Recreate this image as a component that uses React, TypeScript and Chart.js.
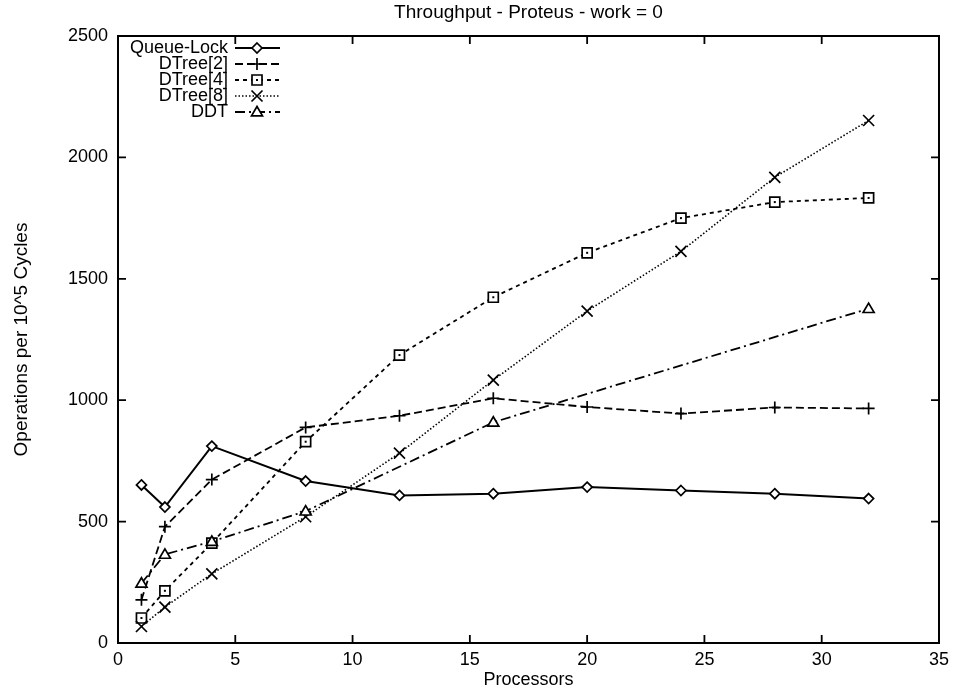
import React, { useEffect, useRef } from "react";
import { Chart, registerables } from "chart.js";

Chart.register(...registerables);

const processors = [1, 2, 4, 8, 12, 16, 20, 24, 28, 32];
const queueLock = [651, 560, 811, 667, 608, 615, 642, 628, 615, 595];
const dtree2 = [178, 479, 673, 888, 936, 1008, 972, 945, 970, 966];
const dtree4 = [103, 215, 411, 829, 1186, 1424, 1607, 1750, 1816, 1833];
const dtree8 = [68, 148, 285, 520, 782, 1083, 1367, 1613, 1918, 2152];
const ddtProcessors = [1, 2, 4, 8, 16, 32];
const ddt = [246, 365, 418, 543, 909, 1377];

const seriesNames = ["Queue-Lock", "DTree[2]", "DTree[4]", "DTree[8]", "DDT"];
const xTicks = [0, 5, 10, 15, 20, 25, 30, 35];
const yTicks = [0, 500, 1000, 1500, 2000, 2500];

const titleText = "Throughput - Proteus - work = 0";
const xTitle = "Processors";
const yTitle = "Operations per 10^5 Cycles";

const FONT = "'Liberation Sans', Arial, Helvetica, sans-serif";

const styles = [
  { dash: [], width: 2, marker: "diamond" },
  { dash: [8, 4], width: 1.8, marker: "plus" },
  { dash: [4, 4], width: 1.8, marker: "square" },
  { dash: [1.5, 2], width: 1.6, marker: "x" },
  { dash: [10, 4, 2, 4], width: 1.8, marker: "triangle" },
];

function drawMarker(ctx: CanvasRenderingContext2D, kind: string, x: number, y: number) {
  ctx.save();
  ctx.setLineDash([]);
  ctx.lineWidth = 1.7;
  ctx.strokeStyle = "#000";
  ctx.fillStyle = "#fff";
  ctx.beginPath();
  if (kind === "diamond") {
    const r = 5;
    ctx.moveTo(x, y - r);
    ctx.lineTo(x + r, y);
    ctx.lineTo(x, y + r);
    ctx.lineTo(x - r, y);
    ctx.closePath();
    ctx.fill();
    ctx.stroke();
  } else if (kind === "plus") {
    const r = 6;
    ctx.moveTo(x - r, y);
    ctx.lineTo(x + r, y);
    ctx.moveTo(x, y - r);
    ctx.lineTo(x, y + r);
    ctx.stroke();
  } else if (kind === "square") {
    const r = 5;
    ctx.rect(x - r, y - r, 2 * r, 2 * r);
    ctx.fill();
    ctx.stroke();
    ctx.fillStyle = "#000";
    ctx.fillRect(x - 1, y - 1, 2, 2);
  } else if (kind === "x") {
    const r = 5.5;
    ctx.moveTo(x - r, y - r);
    ctx.lineTo(x + r, y + r);
    ctx.moveTo(x - r, y + r);
    ctx.lineTo(x + r, y - r);
    ctx.stroke();
  } else if (kind === "triangle") {
    const r = 5.5;
    ctx.moveTo(x, y - r);
    ctx.lineTo(x + r, y + r * 0.7);
    ctx.lineTo(x - r, y + r * 0.7);
    ctx.closePath();
    ctx.fill();
    ctx.stroke();
  }
  ctx.restore();
}

const gnuplotPlugin = {
  id: "gnuplotDecor",
  afterDatasetsDraw(chart: any) {
    const { ctx, chartArea } = chart;
    const { left, top, right, bottom } = chartArea;
    chart.data.datasets.forEach((ds: any, i: number) => {
      const meta = chart.getDatasetMeta(i);
      meta.data.forEach((pt: any) => drawMarker(ctx, styles[i].marker, pt.x, pt.y));
    });
    ctx.save();
    ctx.setLineDash([]);
    ctx.strokeStyle = "#000";
    ctx.lineWidth = 2;
    ctx.strokeRect(left, top, right - left, bottom - top);
    ctx.lineWidth = 1.8;
    const xs = chart.scales.x;
    const ys = chart.scales.y;
    const tl = 8;
    ctx.beginPath();
    xTicks.forEach((v) => {
      if (v === xs.min || v === xs.max) return;
      const px = xs.getPixelForValue(v);
      ctx.moveTo(px, bottom);
      ctx.lineTo(px, bottom - tl);
      ctx.moveTo(px, top);
      ctx.lineTo(px, top + tl);
    });
    yTicks.forEach((v) => {
      if (v === ys.min || v === ys.max) return;
      const py = ys.getPixelForValue(v);
      ctx.moveTo(left, py);
      ctx.lineTo(left + tl, py);
      ctx.moveTo(right, py);
      ctx.lineTo(right - tl, py);
    });
    ctx.stroke();

    ctx.fillStyle = "#000";
    ctx.font = `19px ${FONT}`;
    ctx.textAlign = "center";
    ctx.textBaseline = "middle";
    const cx = (left + right) / 2;
    ctx.fillText(titleText, cx, 13);
    ctx.font = `18px ${FONT}`;
    ctx.fillText(xTitle, cx, 680);
    ctx.save();
    ctx.translate(22, (top + bottom) / 2);
    ctx.rotate(-Math.PI / 2);
    ctx.font = `19px ${FONT}`;
    ctx.fillText(yTitle, 0, 0);
    ctx.restore();

    ctx.font = `18px ${FONT}`;
    ctx.textAlign = "right";
    ctx.textBaseline = "middle";
    seriesNames.forEach((name, i) => {
      const ly = 48 + i * 16;
      ctx.fillStyle = "#000";
      ctx.fillText(name, 228, ly);
      ctx.save();
      ctx.setLineDash(styles[i].dash);
      ctx.lineWidth = styles[i].width;
      ctx.beginPath();
      ctx.moveTo(235, ly);
      ctx.lineTo(280, ly);
      ctx.stroke();
      ctx.restore();
      drawMarker(ctx, styles[i].marker, 257, ly);
    });
    ctx.restore();
  },
};

export default function App() {
  const ref = useRef<HTMLCanvasElement | null>(null);
  useEffect(() => {
    if (!ref.current) return;
    const allX = [processors, processors, processors, processors, ddtProcessors];
    const allY = [queueLock, dtree2, dtree4, dtree8, ddt];
    const datasets = seriesNames.map((name, i) => ({
      label: name,
      data: allX[i].map((x, j) => ({ x, y: allY[i][j] })),
      borderColor: "#000",
      backgroundColor: "#000",
      borderWidth: styles[i].width,
      borderDash: styles[i].dash,
      pointRadius: 0,
      pointHoverRadius: 0,
      fill: false,
      tension: 0,
    }));
    const chart = new Chart(ref.current, {
      type: "line",
      data: { datasets },
      plugins: [gnuplotPlugin],
      options: {
        animation: false,
        responsive: false,
        events: [],
        layout: { padding: { left: 0, top: 36, right: 13, bottom: 0 } },
        plugins: {
          legend: { display: false },
          title: { display: false },
          tooltip: { enabled: false },
        },
        scales: {
          x: {
            type: "linear",
            min: 0,
            max: 35,
            afterBuildTicks: (s: any) => {
              s.ticks = xTicks.map((v) => ({ value: v }));
            },
            afterFit: (s: any) => {
              s.height = 48;
            },
            grid: { display: false, drawTicks: false },
            border: { display: false },
            ticks: {
              padding: 6,
              color: "#000",
              font: { family: FONT, size: 18 },
              maxRotation: 0,
              autoSkip: false,
              callback: (v: any) => String(v),
            },
          },
          y: {
            type: "linear",
            min: 0,
            max: 2500,
            afterBuildTicks: (s: any) => {
              s.ticks = yTicks.map((v) => ({ value: v }));
            },
            afterFit: (s: any) => {
              s.width = 118;
            },
            grid: { display: false, drawTicks: false },
            border: { display: false },
            ticks: {
              padding: 10,
              color: "#000",
              font: { family: FONT, size: 18 },
              autoSkip: false,
              callback: (v: any) => String(v),
            },
          },
        },
      },
    });
    return () => chart.destroy();
  }, []);
  return (
    <div style={{ position: "fixed", left: 0, top: 0, width: 955, height: 691, background: "#fff" }}>
      <canvas ref={ref} width={955} height={691} style={{ display: "block" }} />
    </div>
  );
}
